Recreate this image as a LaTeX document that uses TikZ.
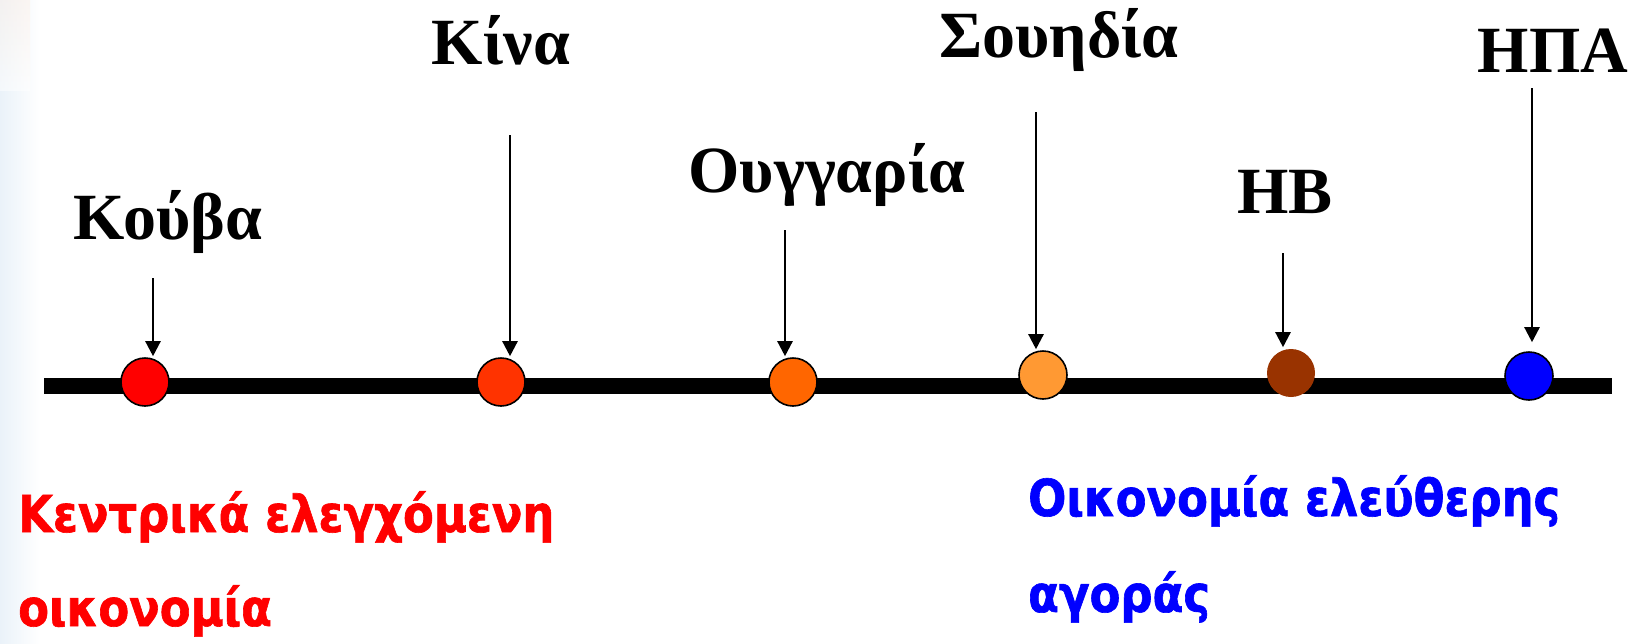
\documentclass[tikz,border=0pt]{standalone}
\usepackage{fontspec}
\usetikzlibrary{arrows.meta}
\newfontfamily\toplabelfont{Liberation Serif}
\newfontfamily\bottomfont[FakeStretch=0.88,BoldFeatures={FakeBold=1.2}]{DejaVu Sans}
\definecolor{cA}{HTML}{FF0000}
\definecolor{cB}{HTML}{FF3300}
\definecolor{cC}{HTML}{FF6600}
\definecolor{cD}{HTML}{FF9933}
\definecolor{cE}{HTML}{993300}
\definecolor{cF}{HTML}{0000FF}
\definecolor{edgeblue}{RGB}{234,242,249}
\definecolor{peach}{RGB}{252,240,232}
\tikzset{
  dot/.style={circle, minimum size=48pt, inner sep=0pt, draw=black, line width=1.6pt},
  country/.style={font=\toplabelfont\bfseries\fontsize{66}{70}\selectfont, anchor=base, inner sep=0pt},
  pointer/.style={line width=2.4pt, -{Triangle[length=15pt,width=15pt]}},
  bigtext/.style={font=\bottomfont\bfseries\fontsize{51}{96}\selectfont, anchor=base west, inner sep=0pt},
  axisline/.style={line width=16pt}
}
\begin{document}
\begin{tikzpicture}[x=1pt,y=-1pt]
\useasboundingbox (0,0) rectangle (1631,643);
% faint background fade at the left edge
\shade[left color=edgeblue, right color=white] (0,0) rectangle (40,643);
\shade[top color=peach, bottom color=white, opacity=0.5] (0,0) rectangle (30,90);

% axis
\coordinate (axL) at (44,386);
\coordinate (axR) at (1612,386);
\draw[axisline] (axL) -- (axR);

% dots
\node[dot, fill=cA] (kouba) at (145,382) {};
\node[dot, fill=cB] (kina) at (501,382) {};
\node[dot, fill=cC] (oung) at (793,382) {};
\node[dot, fill=cD] (soui) at (1043,375) {};
\node[dot, fill=cE, draw=none] (hb) at (1291,373) {};
\node[dot, fill=cF] (hpa) at (1529,376) {};

% labels
\node[country] (lkouba) at (168,239) {Κούβα};
\node[country] (lkina) at (501,64) {Κίνα};
\node[country] (loung) at (827,192) {Ουγγαρία};
\node[country] (lsoui) at (1059,57) {Σουηδία};
\node[country] (lhb) at (1285,213) {ΗΒ};
\node[country] (lhpa) at (1553,72) {ΗΠΑ};

% arrow tails
\coordinate (tkouba) at (153,278);
\coordinate (tkina) at (510,135);
\coordinate (toung) at (785,230);
\coordinate (tsoui) at (1036,112);
\coordinate (thb) at (1283,253);
\coordinate (thpa) at (1532,88);

\draw[pointer, shorten >=1pt] (tkouba) -- (tkouba |- kouba.north);
\draw[pointer, shorten >=1pt] (tkina) -- (tkina |- kina.north);
\draw[pointer, shorten >=1pt] (toung) -- (toung |- oung.north);
\draw[pointer, shorten >=1pt] (tsoui) -- (tsoui |- soui.north);
\draw[pointer, shorten >=1pt] (thb) -- (thb |- hb.north);
\draw[pointer, shorten >=9pt] (thpa) -- (thpa |- hpa.north);

% bottom texts
\node[bigtext, text=cA] (central1) at (18,532) {Κεντρικά ελεγχόμενη};
\node[bigtext, text=cA] (central2) at (18,626) {οικονομία};
\node[bigtext, text=cF] (free1) at (1028,516) {Οικονομία ελεύθερης};
\node[bigtext, text=cF] (free2) at (1028,612) {αγοράς};
\end{tikzpicture}
\end{document}
